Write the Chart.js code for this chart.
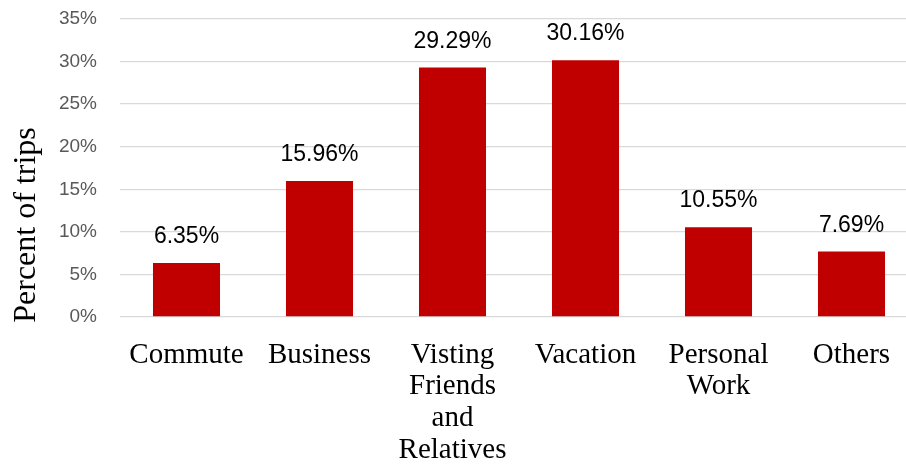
<!DOCTYPE html>
<html>
<head>
<meta charset="utf-8">
<script src="https://cdn.jsdelivr.net/npm/chart.js@4.4.0/dist/chart.umd.min.js"></script>
<style>
  html, body { margin: 0; padding: 0; background: #fff; overflow: hidden; }
  #wrap { width: 918px; height: 466px; }
</style>
</head>
<body>
<div id="wrap"><canvas id="tripChart"></canvas></div>
<script>
const categories = ["Commute", "Business", ["Visting", "Friends", "and", "Relatives"], "Vacation", ["Personal", "Work"], "Others"];
const shares = [6.35, 15.96, 29.29, 30.16, 10.55, 7.69];
const yMin = 0;
const yMax = 35;
const yStep = 5;
const yTitle = "Percent of trips";

// percentage printed above each bar
const valueLabels = {
  id: "valueLabels",
  afterDatasetsDraw(chart) {
    const ctx = chart.ctx;
    const meta = chart.getDatasetMeta(0);
    ctx.save();
    ctx.font = "23px 'Liberation Sans', Arial, sans-serif";
    ctx.fillStyle = "#000";
    ctx.textAlign = "center";
    ctx.textBaseline = "alphabetic";
    meta.data.forEach((bar, i) => {
      ctx.fillText(shares[i].toFixed(2) + "%", bar.x, bar.y - 20);
    });
    ctx.restore();
  }
};

// vertical axis title, centred on the whole canvas height
const sideTitle = {
  id: "sideTitle",
  afterDraw(chart) {
    const ctx = chart.ctx;
    ctx.save();
    ctx.translate(27, chart.height / 2 - 8);
    ctx.rotate(-Math.PI / 2);
    ctx.font = "32px 'Liberation Serif', 'Times New Roman', serif";
    ctx.fillStyle = "#000";
    ctx.textAlign = "center";
    ctx.textBaseline = "middle";
    ctx.fillText(yTitle, 0, 0);
    ctx.restore();
  }
};

const ctx = document.getElementById("tripChart").getContext("2d");

new Chart(ctx, {
  type: "bar",
  data: {
    labels: categories,
    datasets: [{
      data: shares,
      backgroundColor: "#C00000",
      borderWidth: 0,
      categoryPercentage: 1,
      barPercentage: 0.504
    }]
  },
  options: {
    responsive: true,
    maintainAspectRatio: false,
    animation: false,
    layout: { padding: { top: 19, left: 0, right: 0, bottom: 0 } },
    plugins: {
      legend: { display: false },
      tooltip: { enabled: false }
    },
    scales: {
      x: {
        grid: { display: false },
        border: { display: false },
        ticks: {
          color: "#000",
          padding: 14,
          maxRotation: 0,
          autoSkip: false,
          font: { family: "'Liberation Serif', 'Times New Roman', serif", size: 29, lineHeight: 1.1 }
        },
        afterFit(scale) {
          scale.height = 149;
          scale.paddingLeft = 0;
          scale.paddingRight = 0;
        }
      },
      y: {
        min: yMin,
        max: yMax,
        border: { display: false },
        grid: { color: "#d9d9d9", lineWidth: 1.3, drawTicks: false },
        ticks: {
          stepSize: yStep,
          color: "#595959",
          padding: 23,
          font: { family: "'Liberation Sans', Arial, sans-serif", size: 19 },
          callback: v => v + "%"
        },
        afterFit(scale) {
          scale.width = 120;
          scale.paddingTop = 0;
          scale.paddingBottom = 0;
        }
      }
    }
  },
  plugins: [valueLabels, sideTitle]
});
</script>
</body>
</html>
